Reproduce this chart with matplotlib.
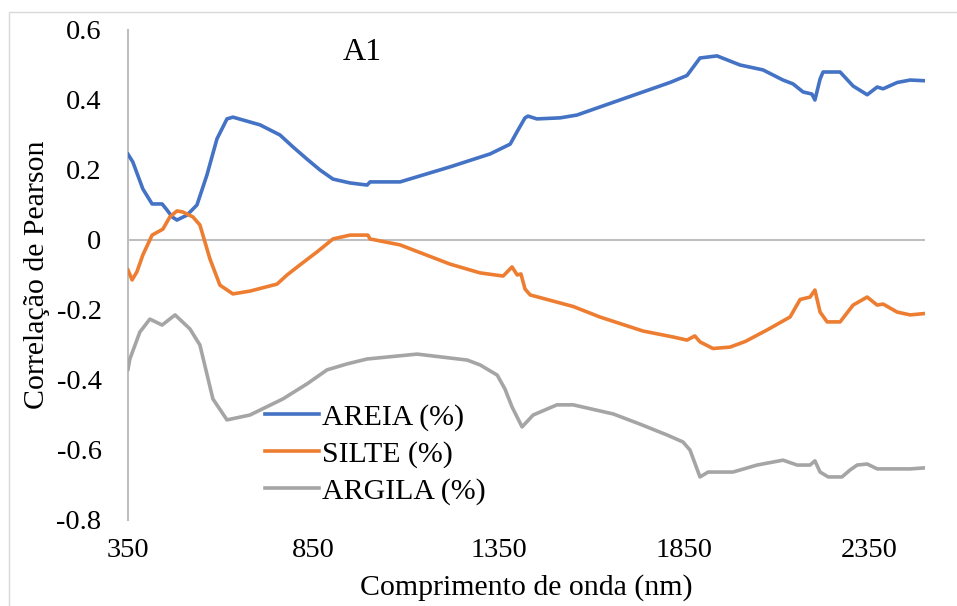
import matplotlib
matplotlib.use('Agg')
import matplotlib.pyplot as plt
from matplotlib.patches import Rectangle

plt.rcParams['font.family'] = ['Liberation Serif', 'DejaVu Serif']

# comprimento de onda (nm) e correlação
areia_nm = [350, 363, 390, 415, 442, 455, 469, 482, 509, 536, 563, 590, 617, 633,
            706, 760, 795, 833, 868, 903, 949, 995, 1003, 1084, 1219, 1327, 1381,
            1402, 1421, 1429, 1453, 1516, 1561, 1623, 1685, 1758, 1812, 1858, 1893,
            1939, 2001, 2063, 2117, 2144, 2171, 2195, 2203, 2217, 2225, 2271, 2306,
            2344, 2371, 2387, 2425, 2460, 2500]
areia = [0.245, 0.223, 0.146, 0.103, 0.103, 0.086, 0.066, 0.057, 0.071, 0.10, 0.186,
         0.289, 0.346, 0.351, 0.329, 0.30, 0.266, 0.231, 0.20, 0.174, 0.163, 0.157,
         0.166, 0.166, 0.209, 0.246, 0.274, 0.314, 0.349, 0.354, 0.346, 0.349, 0.357,
         0.38, 0.403, 0.43, 0.45, 0.47, 0.52, 0.526, 0.50, 0.486, 0.457, 0.446,
         0.423, 0.417, 0.40, 0.46, 0.48, 0.48, 0.44, 0.415, 0.437, 0.432, 0.45,
         0.457, 0.455]

silte_nm = [350, 361, 374, 390, 415, 444, 463, 482, 498, 525, 544, 571, 598, 633,
            679, 752, 779, 814, 860, 903, 949, 997, 1003, 1084, 1219, 1300, 1362,
            1386, 1400, 1410, 1421, 1435, 1551, 1623, 1739, 1820, 1858, 1879, 1893,
            1928, 1974, 2015, 2074, 2136, 2163, 2190, 2203, 2217, 2236, 2271, 2306,
            2344, 2371, 2387, 2425, 2460, 2500]
silte = [-0.086, -0.114, -0.091, -0.043, 0.014, 0.031, 0.066, 0.083, 0.08, 0.066,
         0.043, -0.054, -0.129, -0.154, -0.146, -0.126, -0.10, -0.071, -0.034,
         0.003, 0.014, 0.014, 0.003, -0.014, -0.069, -0.094, -0.103, -0.077, -0.10,
         -0.097, -0.14, -0.157, -0.19, -0.22, -0.26, -0.277, -0.286, -0.274, -0.291,
         -0.31, -0.306, -0.29, -0.257, -0.22, -0.17, -0.163, -0.143, -0.206, -0.234,
         -0.234, -0.186, -0.163, -0.186, -0.183, -0.206, -0.214, -0.21]

argila_nm = [350, 355, 382, 409, 442, 477, 517, 544, 579, 617, 679, 768, 833, 887,
             941, 995, 1130, 1265, 1300, 1346, 1367, 1386, 1413, 1443, 1507, 1551,
             1659, 1731, 1804, 1847, 1866, 1893, 1915, 1982, 2047, 2117, 2155, 2190,
             2203, 2217, 2239, 2276, 2298, 2317, 2344, 2371, 2460, 2500]
argila = [-0.369, -0.34, -0.263, -0.226, -0.243, -0.214, -0.254, -0.30, -0.454,
          -0.514, -0.50, -0.454, -0.411, -0.371, -0.354, -0.34, -0.326, -0.343,
          -0.357, -0.386, -0.426, -0.477, -0.534, -0.50, -0.471, -0.471, -0.497,
          -0.526, -0.557, -0.577, -0.60, -0.677, -0.663, -0.663, -0.643, -0.629,
          -0.643, -0.643, -0.631, -0.663, -0.677, -0.677, -0.657, -0.643, -0.64,
          -0.654, -0.654, -0.651]

xticks = [350, 850, 1350, 1850, 2350]
yticks = [0.6, 0.4, 0.2, 0, -0.2, -0.4, -0.6, -0.8]
ytick_labels = ['0.6', '0.4', '0.2', '0', '-0.2', '-0.4', '-0.6', '-0.8']

fig = plt.figure(figsize=(9.57, 6.06), dpi=100)
ax = fig.add_axes([128 / 957, 1 - 520 / 606, 797 / 957, 490 / 606])

# borda externa do gráfico
fig.patches.append(Rectangle((9 / 957, -0.1), 1.2, 1 - 12 / 606 + 0.1,
                             transform=fig.transFigure, fill=False,
                             edgecolor='#d9d9d9', linewidth=1))

ax.axhline(0, color='#bfbfbf', linewidth=1.5, zorder=1)
ax.plot(areia_nm, areia, color='#4472C4', linewidth=2.6, label='AREIA (%)', zorder=3)
ax.plot(silte_nm, silte, color='#ED7D31', linewidth=2.6, label='SILTE (%)', zorder=3)
ax.plot(argila_nm, argila, color='#A5A5A5', linewidth=2.6, label='ARGILA (%)', zorder=3)

ax.set_xlim(350, 2500)
ax.set_ylim(-0.8, 0.6)
ax.set_xticks(xticks)
ax.set_xticklabels([str(v) for v in xticks])
ax.set_yticks(yticks)
ax.set_yticklabels(ytick_labels)
ax.tick_params(axis='both', length=0, labelsize=20.5)
ax.tick_params(axis='x', pad=13)
ax.tick_params(axis='y', pad=19)

for s in ['top', 'right', 'bottom']:
    ax.spines[s].set_visible(False)
ax.spines['left'].set_color('#bfbfbf')
ax.spines['left'].set_linewidth(1.5)

ax.set_xlabel('Comprimento de onda (nm)', fontsize=21.5, labelpad=8)
ax.set_ylabel('Correlação de Pearson', fontsize=21.5, labelpad=5)

fig.text(362 / 957, 1 - 52 / 606, 'A1', fontsize=23, ha='center', va='center')

ax.legend(loc='upper left', bbox_to_anchor=(265 / 957, 1 - 404 / 606),
          bbox_transform=fig.transFigure, frameon=False, fontsize=21.5,
          borderpad=0, borderaxespad=0, handlelength=1.8, handletextpad=0.1,
          labelspacing=0.32)

fig.savefig('out.png', dpi=100)
